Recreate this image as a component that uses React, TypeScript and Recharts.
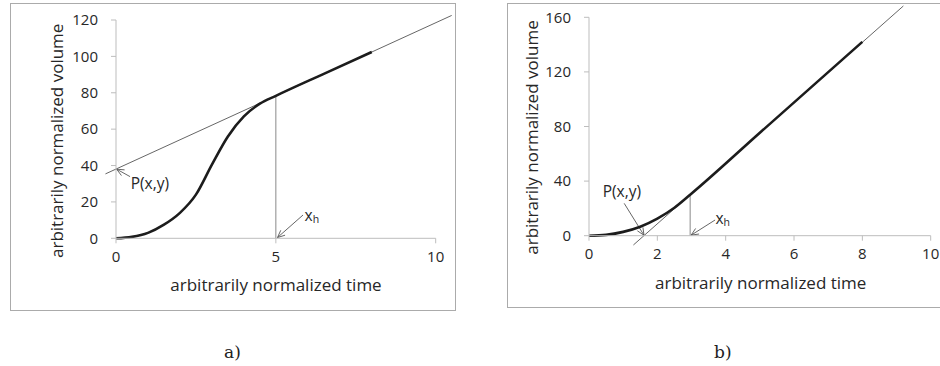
import React from 'react';
import { LineChart, Line, XAxis, YAxis, ReferenceLine, ReferenceDot, Label } from 'recharts';

// ---------- Panel a) data ----------
const timeA = [0, 0.5, 1, 1.5, 2, 2.5, 3, 3.5, 4, 4.5, 5, 6.5, 8];
const volumeA = [0, 0.8, 3, 7.5, 14, 24, 40.5, 56, 67, 74, 78.3, 90.4, 102.4];
const tangentA = [{ x: -0.33, y: 35.4 }, { x: 10.5, y: 122.5 }];
const xhLineA = [{ x: 5, y: 0 }, { x: 5, y: 78.3 }];
const arrowPA = [{ x: 0.44, y: 33.9 }, { x: 0.02, y: 38 }];
const arrowXhA = [{ x: 5.85, y: 12.8 }, { x: 5.05, y: 0.4 }];
const labelPA = { x: 0.46, y: 27 };
const labelXhA = { x: 5.9, y: 9.5 };
const xTicksA = [0, 5, 10];
const yTicksA = [0, 20, 40, 60, 80, 100, 120];

// ---------- Panel b) data ----------
const timeB = [0, 0.5, 1, 1.5, 2, 2.5, 2.96, 5, 8];
const volumeB = [0, 0.6, 2.8, 6.6, 12.5, 20.5, 30, 75.4, 142];
const tangentB = [{ x: 1.3, y: -6.8 }, { x: 9.2, y: 168.3 }];
const xhLineB = [{ x: 2.96, y: 0 }, { x: 2.96, y: 30 }];
const arrowPB = [{ x: 1.03, y: 23.7 }, { x: 1.61, y: 0.3 }];
const arrowXhB = [{ x: 3.69, y: 11.5 }, { x: 2.99, y: 0.4 }];
const labelPB = { x: 0.4, y: 28.6 };
const labelXhB = { x: 3.7, y: 8.6 };
const xTicksB = [0, 2, 4, 6, 8, 10];
const yTicksB = [0, 40, 80, 120, 160];

const xTitle = 'arbitrarily normalized time';
const yTitle = 'arbitrarily normalized volume';
const pLabel = 'P(x,y)';

const FONT = "'Open Sans', 'Noto Sans', sans-serif";
const TEXT = '#272727';
const AXIS = '#bdbdbd';
const TICK_FS = 15;

const Arrow = (props: any) => {
  const { x1, y1, x2, y2 } = props;
  const ang = Math.atan2(y2 - y1, x2 - x1);
  const L = 8;
  const s = 0.42;
  const ax = x2 - L * Math.cos(ang - s);
  const ay = y2 - L * Math.sin(ang - s);
  const bx = x2 - L * Math.cos(ang + s);
  const by = y2 - L * Math.sin(ang + s);
  return (
    <g>
      <line x1={x1} y1={y1} x2={x2} y2={y2} stroke="#555" strokeWidth={0.9} />
      <polyline points={`${ax},${ay} ${x2},${y2} ${bx},${by}`} fill="none" stroke="#555" strokeWidth={0.9} />
    </g>
  );
};

const PText = (props: any) => (
  <text x={props.cx} y={props.cy} fill={TEXT} fontSize={15.5} fontFamily={FONT}>{pLabel}</text>
);

const XhText = (props: any) => (
  <text x={props.cx} y={props.cy} fill={TEXT} fontSize={15.5} fontFamily={FONT}>
    x<tspan fontSize={10.5} dy={2}>h</tspan>
  </text>
);

const XTick = (props: any) => {
  const { x, y, payload } = props;
  return (
    <text x={x} y={y + 5.2} textAnchor="middle" fill={TEXT} fontSize={TICK_FS} fontFamily={FONT}>{payload.value}</text>
  );
};

const YTick = (props: any) => {
  const { x, y, payload } = props;
  return (
    <text x={x} y={y + 5.3} textAnchor="end" fill={TEXT} fontSize={TICK_FS} fontFamily={FONT}>{payload.value}</text>
  );
};

type Cfg = {
  width: number; height: number; mt: number; mr: number; yw: number; xh: number;
  time: number[]; volume: number[]; xMax: number; yMax: number; xTicks: number[]; yTicks: number[];
  tangent: any[]; xhLine: any[]; arrowP: any[]; arrowXh: any[]; labelP: any; labelXh: any;
  xt: { x: number; y: number }; yt: { x: number; y: number };
};

function Panel({ cfg }: { cfg: Cfg }) {
  const rows = cfg.time.map((t, i) => ({ t, v: cfg.volume[i] }));
  return (
    <LineChart width={cfg.width} height={cfg.height} data={rows}
      margin={{ top: cfg.mt, right: cfg.mr, left: 0, bottom: 0 }}>
      <XAxis type="number" dataKey="t" domain={[0, cfg.xMax]} ticks={cfg.xTicks} height={cfg.xh}
        stroke={AXIS} tick={<XTick />} tickSize={5} tickMargin={13} tickLine={{ stroke: AXIS }}>
        <Label content={() => (
          <text x={cfg.xt.x} y={cfg.xt.y} textAnchor="middle" fill={TEXT} fontSize={17} fontFamily={FONT}>{xTitle}</text>
        )} />
      </XAxis>
      <YAxis type="number" domain={[0, cfg.yMax]} ticks={cfg.yTicks} width={cfg.yw}
        stroke={AXIS} tick={<YTick />} tickSize={5} tickMargin={13} tickLine={{ stroke: AXIS }}>
        <Label content={() => (
          <text x={cfg.yt.x} y={cfg.yt.y} textAnchor="middle" fill={TEXT} fontSize={17} fontFamily={FONT}
            transform={`rotate(-90, ${cfg.yt.x}, ${cfg.yt.y})`}>{yTitle}</text>
        )} />
      </YAxis>
      <ReferenceLine segment={cfg.tangent} ifOverflow="visible" stroke="#555" strokeWidth={0.9} />
      <ReferenceLine segment={cfg.xhLine} ifOverflow="visible" stroke="#8a8a8a" strokeWidth={1} />
      <ReferenceLine segment={cfg.arrowP} ifOverflow="visible" shape={Arrow} />
      <ReferenceLine segment={cfg.arrowXh} ifOverflow="visible" shape={Arrow} />
      <ReferenceDot x={cfg.labelP.x} y={cfg.labelP.y} ifOverflow="visible" shape={PText} />
      <ReferenceDot x={cfg.labelXh.x} y={cfg.labelXh.y} ifOverflow="visible" shape={XhText} />
      <Line type="monotone" dataKey="v" stroke="#1c1c1c" strokeWidth={2.6} dot={false} activeDot={false} isAnimationActive={false} />
    </LineChart>
  );
}

const cfgA: Cfg = {
  width: 444, height: 307, mt: 17, mr: 19.3, yw: 105, xh: 71.7,
  time: timeA, volume: volumeA, xMax: 10, yMax: 120, xTicks: xTicksA, yTicks: yTicksA,
  tangent: tangentA, xhLine: xhLineA, arrowP: arrowPA, arrowXh: arrowXhA, labelP: labelPA, labelXh: labelXhA,
  xt: { x: 265, y: 288 }, yt: { x: 51.7, y: 137.8 },
};

const cfgB: Cfg = {
  width: 440, height: 304, mt: 14.3, mr: 16.3, yw: 82, xh: 71.3,
  time: timeB, volume: volumeB, xMax: 10, yMax: 160, xTicks: xTicksB, yTicks: yTicksB,
  tangent: tangentB, xhLine: xhLineB, arrowP: arrowPB, arrowXh: arrowXhB, labelP: labelPB, labelXh: labelXhB,
  xt: { x: 253.7, y: 285.6 }, yt: { x: 30.7, y: 134.5 },
};

export default function App() {
  return (
    <div style={{ position: 'absolute', left: 0, top: 0, width: 940, height: 366, overflow: 'hidden', background: '#fff' }}>
      <svg width={940} height={366} style={{ position: 'absolute', left: 0, top: 0 }}>
        <text x={224} y={358} fontSize={17} fontFamily="'DejaVu Serif', serif" fill="#222">a)</text>
        <text x={714} y={358} fontSize={17} fontFamily="'DejaVu Serif', serif" fill="#222">b)</text>
      </svg>
      <div style={{ position: 'absolute', left: 10, top: 3, width: 446, height: 308, boxSizing: 'border-box', border: '1px solid #ababab' }} />
      <div style={{ position: 'absolute', left: 507, top: 3, width: 500, height: 305, boxSizing: 'border-box', border: '1px solid #ababab' }} />
      <div style={{ position: 'absolute', left: 11, top: 3 }}>
        <Panel cfg={cfgA} />
      </div>
      <div style={{ position: 'absolute', left: 507, top: 3 }}>
        <Panel cfg={cfgB} />
      </div>
    </div>
  );
}
